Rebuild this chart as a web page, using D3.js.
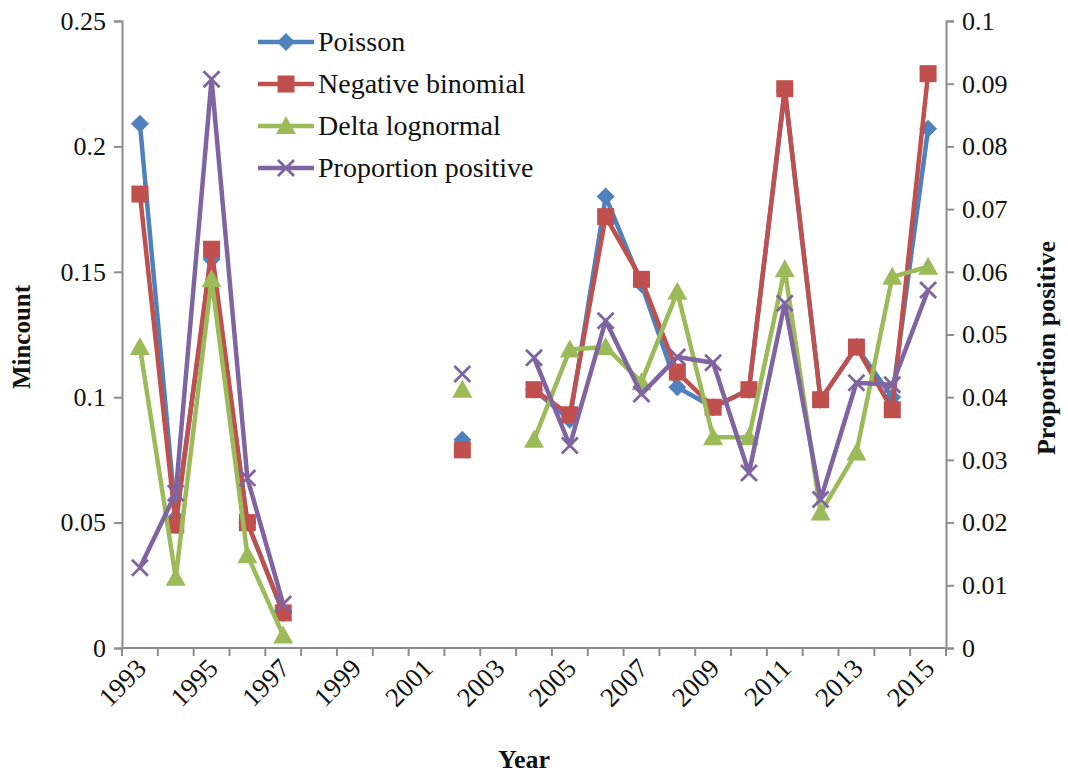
<!DOCTYPE html>
<html><head><meta charset="utf-8">
<script src="https://cdn.jsdelivr.net/npm/d3@7"></script>
<style>body{margin:0;background:#fff}svg{display:block}text{font-family:"Liberation Serif","Times New Roman",serif;fill:#111}</style>
</head><body><svg id="c" width="1068" height="775"></svg>
<script>
const years = d3.range(1993, 2016).map(String);
const tickYears = ["1993","1995","1997","1999","2001","2003","2005","2007","2009","2011","2013","2015"];
// null = no data
const poisson = [0.209,0.052,0.155,0.050,0.014,null,null,null,null,0.083,null,0.103,0.091,0.180,0.145,0.104,0.096,0.103,0.222,0.099,0.120,0.100,0.207];
const negBinomial = [0.181,0.049,0.159,0.050,0.014,null,null,null,null,0.079,null,0.103,0.093,0.172,0.147,0.110,0.096,0.103,0.223,0.099,0.120,0.095,0.229];
const deltaLognormal = [0.120,0.028,0.147,0.037,0.005,null,null,null,null,0.103,null,0.083,0.119,0.120,0.106,0.142,0.084,0.084,0.151,0.054,0.078,0.148,0.152];
const propPositive = [0.0128,0.0247,0.0907,0.0271,0.0070,null,null,null,null,0.0437,null,0.0463,0.0323,0.0522,0.0405,0.0464,0.0455,0.0279,0.0550,0.0237,0.0423,0.0420,0.0571];
const leftTicks = [0,0.05,0.1,0.15,0.2,0.25];
const rightTicks = [0,0.01,0.02,0.03,0.04,0.05,0.06,0.07,0.08,0.09,0.1];
const seriesNames = ["Poisson","Negative binomial","Delta lognormal","Proportion positive"];
const colors = ["#4F81BD","#C0504D","#9BBB59","#8064A2"];

const svg = d3.select("#c");
const L = 122, R = 946, T = 21, B = 648;
const x = d3.scaleBand().domain(years).range([L, R]);
const yL = d3.scaleLinear().domain([0,0.25]).range([B, T]);
const yR = d3.scaleLinear().domain([0,0.1]).range([B, T]);
const axisColor = "#8c8c8c";
const fmt = v => String(+v.toFixed(2));

const gl = svg.append("g").attr("transform",`translate(${L},0)`)
  .call(d3.axisLeft(yL).tickValues(leftTicks).tickFormat(fmt).tickSize(8).tickPadding(8));
const gr = svg.append("g").attr("transform",`translate(${R},0)`)
  .call(d3.axisRight(yR).tickValues(rightTicks).tickFormat(fmt).tickSize(8).tickPadding(8));
const gb = svg.append("g").attr("transform",`translate(0,${B})`)
  .call(d3.axisBottom(x).tickValues(tickYears).tickSize(0).tickPadding(0));
[gl,gr,gb].forEach(g=>{
  g.select(".domain").attr("stroke",axisColor).attr("stroke-width",2);
  g.selectAll(".tick line").attr("stroke",axisColor).attr("stroke-width",2);
  g.selectAll(".tick text").style("font-family","'Liberation Serif',serif").style("font-size","26px").attr("fill","#111");
});
gb.select(".domain").attr("d",`M${L},0H${R}`);
gb.selectAll(".tick text").style("font-size","27px").attr("text-anchor","end").attr("dy","0").attr("y",0)
  .attr("transform","translate(8,22) rotate(-45)");
const bounds = years.map(d=>x(d)).concat([x.range()[1]]);
gb.selectAll(".btick").data(bounds).enter().append("line")
  .attr("x1",d=>d).attr("x2",d=>d).attr("y1",0).attr("y2",8)
  .attr("stroke",axisColor).attr("stroke-width",2);

svg.append("text").attr("transform",`translate(30,337) rotate(-90)`).attr("text-anchor","middle")
  .style("font-weight","bold").style("font-size","25px").text("Mincount");
svg.append("text").attr("transform",`translate(1055,348) rotate(-90)`).attr("text-anchor","middle")
  .style("font-weight","bold").style("font-size","26px").text("Proportion positive");
svg.append("text").attr("x",524).attr("y",768).attr("text-anchor","middle")
  .style("font-weight","bold").style("font-size","26px").text("Year");

function marker(g, i, cx, cy){
  const c = colors[i];
  if(i===0){ g.append("path").attr("d",`M${cx},${cy-9}L${cx+9},${cy}L${cx},${cy+9}L${cx-9},${cy}Z`).attr("fill",c); }
  else if(i===1){ g.append("rect").attr("x",cx-8.5).attr("y",cy-8.5).attr("width",17).attr("height",17).attr("fill",c); }
  else if(i===2){ g.append("path").attr("d",`M${cx},${cy-10}L${cx+10},${cy+8}L${cx-10},${cy+8}Z`).attr("fill",c); }
  else { g.append("path").attr("d",`M${cx-8},${cy-8}L${cx+8},${cy+8}M${cx+8},${cy-8}L${cx-8},${cy+8}`).attr("stroke",c).attr("stroke-width",2.8); }
}

const data = [poisson, negBinomial, deltaLognormal, propPositive];
const scales = [yL,yL,yL,yR];
data.forEach((arr,i)=>{
  const ys = scales[i];
  const pts = arr.map((v,j)=>({yr:years[j],v}));
  const line = d3.line().defined(d=>d.v!==null).x(d=>x(d.yr)+x.bandwidth()/2).y(d=>ys(d.v));
  const g = svg.append("g");
  g.append("path").attr("d",line(pts)).attr("fill","none").attr("stroke",colors[i]).attr("stroke-width",4.5).attr("stroke-linejoin","round");
  pts.filter(d=>d.v!==null).forEach(d=>marker(g,i,x(d.yr)+x.bandwidth()/2,ys(d.v)));
});

const leg = svg.append("g");
seriesNames.forEach((n,i)=>{
  const cy = 42 + i*42;
  leg.append("line").attr("x1",258).attr("x2",314).attr("y1",cy).attr("y2",cy).attr("stroke",colors[i]).attr("stroke-width",4.5);
  marker(leg,i,286,cy);
  leg.append("text").attr("x",318).attr("y",cy+9).style("font-size","28px").text(n);
});
</script></body></html>
